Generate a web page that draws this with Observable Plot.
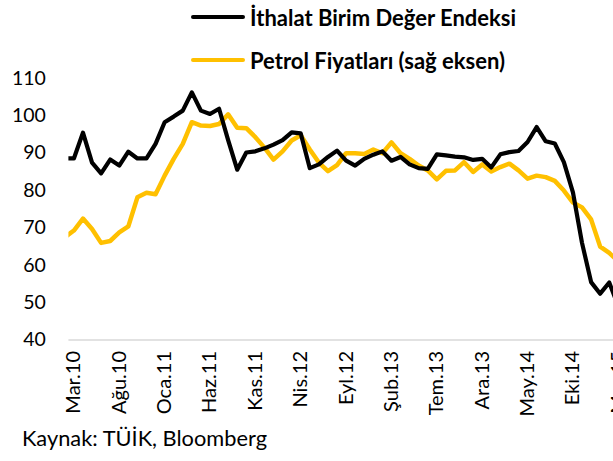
<!DOCTYPE html>
<html><head><meta charset="utf-8">
<script src="https://cdn.jsdelivr.net/npm/d3@7"></script>
<script src="https://cdn.jsdelivr.net/npm/@observablehq/plot@0.6"></script>
<style>
html,body{margin:0;padding:0;background:#fff;overflow:hidden;}
#wrap{position:relative;width:613px;height:461px;font-family:Lato,"Open Sans",sans-serif;color:#000;}
.leg{position:absolute;left:191px;height:24px;display:flex;align-items:center;font-weight:bold;font-size:22px;white-space:nowrap;}
.leg .sw{width:54px;height:4px;border-radius:2px;margin-right:5px;}
#cap{position:absolute;left:22px;top:424px;font-size:21.8px;white-space:nowrap;}
#chart{position:absolute;left:0;top:0;}
</style></head>
<body><div id="wrap">
<div id="chart"></div>
<div class="leg" style="top:5px"><span class="sw" style="background:#000"></span>İthalat Birim Değer Endeksi</div>
<div class="leg" style="top:48px"><span class="sw" style="background:#FFC000"></span>Petrol Fiyatları (sağ eksen)</div>
<div id="cap">Kaynak: TÜİK, Bloomberg</div>
</div>
<script>
const months = ["Şub.10","Mar.10","Nis.10","May.10","Haz.10","Tem.10","Ağu.10","Eyl.10","Eki.10","Kas.10","Ara.10",
"Oca.11","Şub.11","Mar.11","Nis.11","May.11","Haz.11","Tem.11","Ağu.11","Eyl.11","Eki.11","Kas.11","Ara.11",
"Oca.12","Şub.12","Mar.12","Nis.12","May.12","Haz.12","Tem.12","Ağu.12","Eyl.12","Eki.12","Kas.12","Ara.12",
"Oca.13","Şub.13","Mar.13","Nis.13","May.13","Haz.13","Tem.13","Ağu.13","Eyl.13","Eki.13","Kas.13","Ara.13",
"Oca.14","Şub.14","Mar.14","Nis.14","May.14","Haz.14","Tem.14","Ağu.14","Eyl.14","Eki.14","Kas.14","Ara.14",
"Oca.15","Şub.15","Mar.15"];
const ithalat = [88.6,88.6,95.5,87.5,84.6,88.3,86.7,90.4,88.6,88.6,92.5,
98.3,99.8,101.4,106.3,101.4,100.5,101.9,93.5,85.6,90.2,90.5,91.3,
92.3,93.5,95.6,95.3,86,87,89,90.7,88,86.7,88.5,89.6,
90.5,88,89,87,86,85.8,89.7,89.4,89.1,88.9,88.2,88.5,
86.2,89.7,90.3,90.6,93,97,93.2,92.6,87.6,79.5,66,55.5,
52.4,55.4,49];
const petrol = [67.5,69.3,72.5,69.7,66,66.5,68.8,70.4,78.2,79.4,79,
84,88.5,92.5,98.3,97.4,97.3,97.8,100.4,96.8,96.7,94.3,91.5,
88.3,90.5,93.4,94.8,91,87.5,85.2,86.8,90,90,89.8,91,
90,92.9,90,88.5,86.7,85.4,83,85.3,85.4,87.6,85,87,
85.1,86.3,87.2,85.4,83.2,84,83.6,82.6,80,76.8,75.5,72.3,
65,63.3,61];
const tickLabels = ["Mar.10","Ağu.10","Oca.11","Haz.11","Kas.11","Nis.12","Eyl.12","Şub.13","Tem.13","Ara.13","May.14","Eki.14","Mar.15"];
const yTicks = [40,50,60,70,80,90,100,110];

const data = months.map((m, i) => ({i, m, ithalat: ithalat[i], petrol: petrol[i]}));
const tickIdx = tickLabels.map(l => months.indexOf(l));

const chart = Plot.plot({
  width: 613, height: 461,
  marginLeft: 68.4, marginRight: 0, marginTop: 78, marginBottom: 121.5,
  style: {fontFamily: "Lato, 'Open Sans', sans-serif", color: "#000", background: "#fff"},
  x: {type: "linear", domain: [0.45, 60.47]},
  y: {domain: [40, 110]},
  marks: [
    Plot.ruleY([40], {stroke: "#d9d9d9", strokeWidth: 1.5}),
    Plot.axisY({ticks: yTicks, tickSize: 0, tickPadding: 23, fontSize: 19.5, label: null}),
    Plot.axisX({ticks: tickIdx, tickFormat: i => months[i], tickRotate: -90, tickSize: 0, tickPadding: 11, fontSize: 20, label: null}),
    Plot.lineY(data, {x: "i", y: "petrol", stroke: "#FFC000", strokeWidth: 4.5, strokeLinejoin: "round", clip: true}),
    Plot.lineY(data, {x: "i", y: "ithalat", stroke: "#000", strokeWidth: 4.2, strokeLinejoin: "round", clip: true})
  ]
});
document.getElementById("chart").appendChild(chart);
</script>
</body></html>
